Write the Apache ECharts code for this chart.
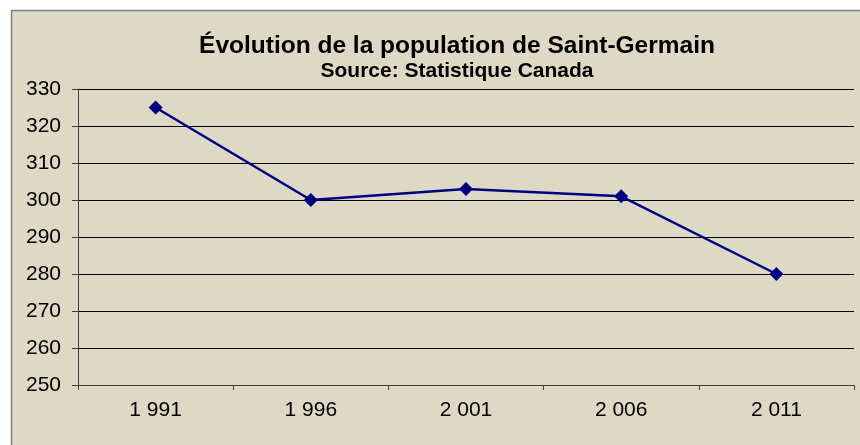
<!DOCTYPE html>
<html>
<head>
<meta charset="utf-8">
<script src="https://cdn.jsdelivr.net/npm/echarts@6/dist/echarts.min.js"></script>
<style>
  html, body { margin: 0; padding: 0; background: #ffffff; }
  #chart { width: 860px; height: 445px; }
</style>
</head>
<body>
<div id="chart"></div>
<script>
// données
let years = ['1 991', '1 996', '2 001', '2 006', '2 011']
let population = [325, 300, 303, 301, 280]
let yMin = 250
let yMax = 330
let yStep = 10

let myChart = echarts.init(document.getElementById('chart'))

let option = {
    backgroundColor: '#ffffff',
    animation: false,
    graphic: [{
        type: 'rect',
        z: -10,
        shape: { x: 11.5, y: 10.5, width: 860, height: 445 },
        style: { fill: '#ddd9c4', stroke: '#808080', lineWidth: 1.5 }
    }],
    title: {
        text: 'Évolution de la population de Saint-Germain',
        subtext: 'Source: Statistique Canada',
        left: 452,
        top: 29,
        textAlign: 'center',
        itemGap: 2,
        textStyle: { fontFamily: 'Liberation Sans', fontSize: 24.5, fontWeight: 'bold', color: '#000' },
        subtextStyle: { fontFamily: 'Liberation Sans', fontSize: 21, fontWeight: 'bold', color: '#000' }
    },
    grid: { left: 78, right: 6, top: 89, bottom: 60, containLabel: false },
    xAxis: {
        type: 'category',
        data: years,
        boundaryGap: true,
        axisLine: { lineStyle: { color: '#404040', width: 1 } },
        axisTick: { show: true, length: 5, lineStyle: { color: '#404040' } },
        axisLabel: { fontFamily: 'Liberation Sans', fontSize: 21, color: '#000', margin: 15 }
    },
    yAxis: {
        type: 'value',
        min: yMin,
        max: yMax,
        interval: yStep,
        axisLine: { show: true, lineStyle: { color: '#404040', width: 1 } },
        axisTick: { show: true, length: 6, lineStyle: { color: '#404040' } },
        axisLabel: { fontFamily: 'Liberation Sans', fontSize: 21, color: '#000', margin: 17 },
        splitLine: { show: true, lineStyle: { color: '#000', width: 1 } }
    },
    series: [{
        type: 'line',
        data: population,
        symbol: 'diamond',
        symbolSize: 14,
        lineStyle: { color: '#000080', width: 2.5 },
        itemStyle: { color: '#000080' }
    }]
}

myChart.setOption(option)
</script>
</body>
</html>
